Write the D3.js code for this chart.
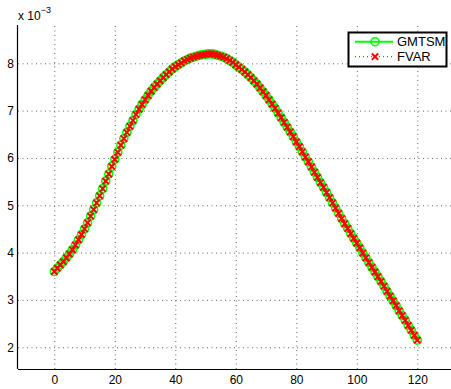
<!DOCTYPE html>
<html>
<head>
<meta charset="utf-8">
<script src="https://cdn.jsdelivr.net/npm/d3@7"></script>
<style>
  body { margin: 0; background: #fff; }
  svg { display: block; font-family: "Liberation Sans", Arial, Helvetica, sans-serif; }
</style>
</head>
<body>
<div id="chart"></div>
<script>
// values are x 10^-3, one per step 0..120
const steps = d3.range(0, 121)
const gmtsm = [
  3.60, 3.67, 3.74, 3.81, 3.89, 3.97, 4.06, 4.16, 4.27, 4.38,
  4.50, 4.63, 4.77, 4.91, 5.05, 5.20, 5.35, 5.51, 5.66, 5.82,
  5.97, 6.12, 6.27, 6.41, 6.54, 6.67, 6.79, 6.92, 7.03, 7.13,
  7.23, 7.32, 7.41, 7.49, 7.56, 7.63, 7.70, 7.76, 7.82, 7.88,
  7.93, 7.97, 8.01, 8.05, 8.08, 8.11, 8.13, 8.15, 8.17, 8.18,
  8.19, 8.20, 8.20, 8.19, 8.17, 8.15, 8.13, 8.10, 8.06, 8.02,
  7.97, 7.92, 7.87, 7.82, 7.76, 7.70, 7.63, 7.56, 7.48, 7.40,
  7.32, 7.23, 7.14, 7.05, 6.95, 6.85, 6.75, 6.65, 6.55, 6.45,
  6.34, 6.24, 6.13, 6.02, 5.92, 5.81, 5.70, 5.59, 5.48, 5.38,
  5.27, 5.16, 5.05, 4.94, 4.83, 4.72, 4.61, 4.51, 4.40, 4.30,
  4.20, 4.10, 3.99, 3.89, 3.79, 3.69, 3.59, 3.49, 3.39, 3.29,
  3.18, 3.08, 2.98, 2.88, 2.77, 2.67, 2.57, 2.46, 2.36, 2.25,
  2.15
]
const fvar = [
  3.60, 3.67, 3.74, 3.81, 3.89, 3.97, 4.06, 4.16, 4.27, 4.38,
  4.50, 4.63, 4.77, 4.91, 5.05, 5.20, 5.35, 5.51, 5.66, 5.82,
  5.97, 6.12, 6.27, 6.41, 6.54, 6.67, 6.79, 6.92, 7.03, 7.13,
  7.23, 7.32, 7.41, 7.49, 7.56, 7.63, 7.70, 7.76, 7.82, 7.88,
  7.93, 7.97, 8.01, 8.05, 8.08, 8.11, 8.13, 8.15, 8.17, 8.18,
  8.19, 8.20, 8.20, 8.19, 8.17, 8.15, 8.13, 8.10, 8.06, 8.02,
  7.97, 7.92, 7.87, 7.82, 7.76, 7.70, 7.63, 7.56, 7.48, 7.40,
  7.32, 7.23, 7.14, 7.05, 6.95, 6.85, 6.75, 6.65, 6.55, 6.45,
  6.34, 6.24, 6.13, 6.02, 5.92, 5.81, 5.70, 5.59, 5.48, 5.38,
  5.27, 5.16, 5.05, 4.94, 4.83, 4.72, 4.61, 4.51, 4.40, 4.30,
  4.20, 4.10, 3.99, 3.89, 3.79, 3.69, 3.59, 3.49, 3.39, 3.29,
  3.18, 3.08, 2.98, 2.88, 2.77, 2.67, 2.57, 2.46, 2.36, 2.25,
  2.15
]
const xTicks = [0, 20, 40, 60, 80, 100, 120]
const yTicks = [2, 3, 4, 5, 6, 7, 8]
const seriesNames = ['GMTSM', 'FVAR']

const W = 451, H = 389
const mLeft = 18, mRight = 453.6, mTop = 25, mBottom = 369

const svg = d3.select('#chart').append('svg')
  .attr('width', W).attr('height', H)

const x = d3.scaleLinear().domain([-12, 132]).range([mLeft, mRight])
const y = d3.scaleLinear().domain([1.54, 8.81]).range([mBottom, mTop])

// grid
const grid = svg.append('g')
grid.append('g')
  .attr('transform', `translate(0,${mBottom})`)
  .call(d3.axisBottom(x).tickValues(xTicks).tickSize(-(mBottom - mTop)).tickFormat(''))
grid.append('g')
  .attr('transform', `translate(${mLeft},0)`)
  .call(d3.axisLeft(y).tickValues(yTicks).tickSize(-(W - mLeft)).tickFormat(''))
grid.selectAll('.domain').remove()
grid.selectAll('line')
  .attr('stroke', '#666')
  .attr('stroke-width', 1)
  .attr('stroke-dasharray', '1,3.5')

// axes
const xAxis = svg.append('g')
  .attr('transform', `translate(0,${mBottom})`)
  .call(d3.axisBottom(x).tickValues(xTicks).tickSize(0).tickPadding(6.5))
xAxis.select('.domain').attr('d', `M${mLeft},0.5H${W}`)

const yAxis = svg.append('g')
  .attr('transform', `translate(${mLeft},0)`)
  .call(d3.axisLeft(y).tickValues(yTicks).tickSize(0).tickPadding(4))
yAxis.select('.domain').attr('d', `M-0.5,${mTop}V${mBottom}`)

svg.selectAll('.domain').attr('stroke', '#000').attr('stroke-width', 1.2)
svg.selectAll('.tick text')
  .attr('font-size', 12)
  .attr('font-family', '"Liberation Sans", Arial, sans-serif')
  .attr('fill', '#000')

// exponent label
const ex = svg.append('text').attr('x', 18).attr('y', 20)
  .attr('font-size', 12).attr('fill', '#000')
ex.append('tspan').text('x 10')
ex.append('tspan').attr('font-size', 9).attr('dy', -7).text('−3')

// series
const line = d3.line().x((d, i) => x(steps[i])).y(d => y(d))

svg.append('path').datum(gmtsm)
  .attr('d', line)
  .attr('fill', 'none')
  .attr('stroke', '#00ff00')
  .attr('stroke-width', 2)

svg.append('g').selectAll('circle')
  .data(gmtsm)
  .join('circle')
  .attr('cx', (d, i) => x(steps[i]))
  .attr('cy', d => y(d))
  .attr('r', 4)
  .attr('fill', 'none')
  .attr('stroke', '#00ff00')
  .attr('stroke-width', 1.6)

svg.append('path').datum(fvar)
  .attr('d', line)
  .attr('fill', 'none')
  .attr('stroke', '#ff0000')
  .attr('stroke-width', 1)
  .attr('stroke-dasharray', '1,3')

const cross = d3.symbol().type(d3.symbolX).size(28)
svg.append('g').selectAll('path')
  .data(fvar)
  .join('path')
  .attr('transform', (d, i) => `translate(${x(steps[i])},${y(d)})`)
  .attr('d', cross)
  .attr('fill', 'none')
  .attr('stroke', '#ff0000')
  .attr('stroke-width', 2)

// legend
const lg = svg.append('g')
lg.append('rect')
  .attr('x', 348.5).attr('y', 32.5)
  .attr('width', 98).attr('height', 34)
  .attr('fill', '#fff')
  .attr('stroke', '#000')
  .attr('stroke-width', 2)

const rows = [41.7, 56.7]
lg.append('line')
  .attr('x1', 355).attr('x2', 393).attr('y1', rows[0]).attr('y2', rows[0])
  .attr('stroke', '#00ff00').attr('stroke-width', 2)
lg.append('circle')
  .attr('cx', 375).attr('cy', rows[0]).attr('r', 4)
  .attr('fill', 'none').attr('stroke', '#00ff00').attr('stroke-width', 1.6)
lg.append('line')
  .attr('x1', 355).attr('x2', 393).attr('y1', rows[1]).attr('y2', rows[1])
  .attr('stroke', '#ff0000').attr('stroke-width', 1).attr('stroke-dasharray', '1,3')
lg.append('path')
  .attr('transform', `translate(375,${rows[1]})`)
  .attr('d', cross)
  .attr('fill', 'none').attr('stroke', '#ff0000').attr('stroke-width', 2)

lg.selectAll('text.lab')
  .data(seriesNames)
  .join('text')
  .attr('class', 'lab')
  .attr('x', 397)
  .attr('y', (d, i) => rows[i])
  .attr('dy', '0.36em')
  .attr('font-size', 13)
  .attr('fill', '#000')
  .text(d => d)
</script>
</body>
</html>
